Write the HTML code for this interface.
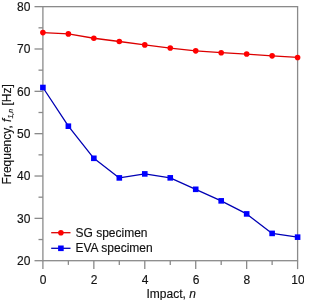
<!DOCTYPE html>
<html><head><meta charset="utf-8"><style>
html,body{margin:0;padding:0;background:#fff;width:304px;height:300px;overflow:hidden}
svg{display:block;will-change:transform;filter:blur(0.25px);font-family:"Liberation Sans",sans-serif}
</style></head><body>
<svg width="304" height="300" viewBox="0 0 304 300">
<g stroke="#8a8a8a" stroke-width="1.3" fill="none">
<rect x="42.9" y="6.65" width="254.70" height="254.05"/>
<line x1="34.50" y1="260.70" x2="42.90" y2="260.70"/>
<line x1="38.50" y1="239.53" x2="42.90" y2="239.53"/>
<line x1="34.50" y1="218.36" x2="42.90" y2="218.36"/>
<line x1="38.50" y1="197.19" x2="42.90" y2="197.19"/>
<line x1="34.50" y1="176.02" x2="42.90" y2="176.02"/>
<line x1="38.50" y1="154.85" x2="42.90" y2="154.85"/>
<line x1="34.50" y1="133.67" x2="42.90" y2="133.67"/>
<line x1="38.50" y1="112.50" x2="42.90" y2="112.50"/>
<line x1="34.50" y1="91.33" x2="42.90" y2="91.33"/>
<line x1="38.50" y1="70.16" x2="42.90" y2="70.16"/>
<line x1="34.50" y1="48.99" x2="42.90" y2="48.99"/>
<line x1="38.50" y1="27.82" x2="42.90" y2="27.82"/>
<line x1="34.50" y1="6.65" x2="42.90" y2="6.65"/>
<line x1="42.90" y1="260.70" x2="42.90" y2="269.10"/>
<line x1="68.37" y1="260.70" x2="68.37" y2="264.90"/>
<line x1="93.84" y1="260.70" x2="93.84" y2="269.10"/>
<line x1="119.31" y1="260.70" x2="119.31" y2="264.90"/>
<line x1="144.78" y1="260.70" x2="144.78" y2="269.10"/>
<line x1="170.25" y1="260.70" x2="170.25" y2="264.90"/>
<line x1="195.72" y1="260.70" x2="195.72" y2="269.10"/>
<line x1="221.19" y1="260.70" x2="221.19" y2="264.90"/>
<line x1="246.66" y1="260.70" x2="246.66" y2="269.10"/>
<line x1="272.13" y1="260.70" x2="272.13" y2="264.90"/>
<line x1="297.60" y1="260.70" x2="297.60" y2="269.10"/>
</g>
<g font-family="Liberation Sans, sans-serif" font-size="12" fill="#111" stroke="#111" stroke-width="0.15">
<text x="30.4" y="265.00" text-anchor="end">20</text>
<text x="30.4" y="222.66" text-anchor="end">30</text>
<text x="30.4" y="180.32" text-anchor="end">40</text>
<text x="30.4" y="137.97" text-anchor="end">50</text>
<text x="30.4" y="95.63" text-anchor="end">60</text>
<text x="30.4" y="53.29" text-anchor="end">70</text>
<text x="30.4" y="10.95" text-anchor="end">80</text>
<text x="43.20" y="283.8" text-anchor="middle">0</text>
<text x="94.14" y="283.8" text-anchor="middle">2</text>
<text x="145.08" y="283.8" text-anchor="middle">4</text>
<text x="196.02" y="283.8" text-anchor="middle">6</text>
<text x="246.96" y="283.8" text-anchor="middle">8</text>
<text x="297.90" y="283.8" text-anchor="middle">10</text>
<text x="146.5" y="297.9">Impact, <tspan font-style="italic">n</tspan></text>
<text transform="translate(10.5,184.4) rotate(-90)">Frequency, <tspan font-style="italic">f</tspan><tspan font-style="italic" font-size="7" dy="2.4">1,n</tspan><tspan dy="-2.4"> [Hz]</tspan></text>
</g>
<polyline points="42.90,32.60 68.37,33.90 93.84,38.25 119.31,41.50 144.78,44.90 170.25,48.05 195.72,50.85 221.19,52.70 246.66,54.05 272.13,55.85 297.60,57.45" fill="none" stroke="#dc0000" stroke-width="1.3" stroke-linejoin="round"/>
<polyline points="42.90,87.50 68.37,126.20 93.84,158.30 119.31,177.90 144.78,173.90 170.25,177.85 195.72,189.30 221.19,200.85 246.66,213.90 272.13,233.40 297.60,237.15" fill="none" stroke="#0000b4" stroke-width="1.3" stroke-linejoin="round"/>
<circle cx="42.90" cy="32.60" r="2.8" fill="#ff0000"/>
<circle cx="68.37" cy="33.90" r="2.8" fill="#ff0000"/>
<circle cx="93.84" cy="38.25" r="2.8" fill="#ff0000"/>
<circle cx="119.31" cy="41.50" r="2.8" fill="#ff0000"/>
<circle cx="144.78" cy="44.90" r="2.8" fill="#ff0000"/>
<circle cx="170.25" cy="48.05" r="2.8" fill="#ff0000"/>
<circle cx="195.72" cy="50.85" r="2.8" fill="#ff0000"/>
<circle cx="221.19" cy="52.70" r="2.8" fill="#ff0000"/>
<circle cx="246.66" cy="54.05" r="2.8" fill="#ff0000"/>
<circle cx="272.13" cy="55.85" r="2.8" fill="#ff0000"/>
<circle cx="297.60" cy="57.45" r="2.8" fill="#ff0000"/>
<rect x="40.10" y="84.70" width="5.6" height="5.6" fill="#0000ff"/>
<rect x="65.57" y="123.40" width="5.6" height="5.6" fill="#0000ff"/>
<rect x="91.04" y="155.50" width="5.6" height="5.6" fill="#0000ff"/>
<rect x="116.51" y="175.10" width="5.6" height="5.6" fill="#0000ff"/>
<rect x="141.98" y="171.10" width="5.6" height="5.6" fill="#0000ff"/>
<rect x="167.45" y="175.05" width="5.6" height="5.6" fill="#0000ff"/>
<rect x="192.92" y="186.50" width="5.6" height="5.6" fill="#0000ff"/>
<rect x="218.39" y="198.05" width="5.6" height="5.6" fill="#0000ff"/>
<rect x="243.86" y="211.10" width="5.6" height="5.6" fill="#0000ff"/>
<rect x="269.33" y="230.60" width="5.6" height="5.6" fill="#0000ff"/>
<rect x="294.80" y="234.35" width="5.6" height="5.6" fill="#0000ff"/>
<line x1="51.2" y1="232.7" x2="70.5" y2="232.7" stroke="#dc0000" stroke-width="1.3"/>
<circle cx="60.9" cy="232.7" r="2.8" fill="#ff0000"/>
<line x1="51.2" y1="248.3" x2="70.5" y2="248.3" stroke="#0000b4" stroke-width="1.3"/>
<rect x="58.10" y="245.50" width="5.6" height="5.6" fill="#0000ff"/>
<g font-family="Liberation Sans, sans-serif" font-size="12" fill="#111" stroke="#111" stroke-width="0.15">
<text x="75.5" y="236.7">SG specimen</text>
<text x="75.5" y="252">EVA specimen</text>
</g>
</svg>
</body></html>
